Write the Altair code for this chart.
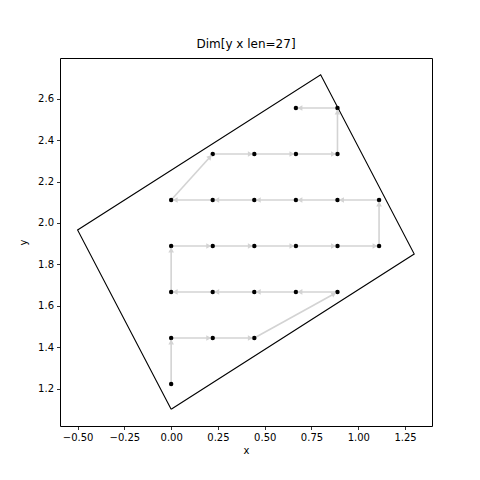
import math
import altair as alt
import pandas as pd

# Visit order of the 27 points (snake path)
px = [0.0,
      0.0, 0.2222, 0.4444,
      0.8889, 0.6667, 0.4444, 0.2222, 0.0,
      0.0, 0.2222, 0.4444, 0.6667, 0.8889, 1.1111,
      1.1111, 0.8889, 0.6667, 0.4444, 0.2222, 0.0,
      0.2222, 0.4444, 0.6667, 0.8889,
      0.8889, 0.6667]
py = [1.2222,
      1.4444, 1.4444, 1.4444,
      1.6667, 1.6667, 1.6667, 1.6667, 1.6667,
      1.8889, 1.8889, 1.8889, 1.8889, 1.8889, 1.8889,
      2.1111, 2.1111, 2.1111, 2.1111, 2.1111, 2.1111,
      2.3333, 2.3333, 2.3333, 2.3333,
      2.5556, 2.5556]

# Rotated rectangle outline
poly_x = [0.0, 1.299, 0.799, -0.5, 0.0]
poly_y = [1.1, 1.85, 2.716, 1.966, 1.1]

x_ticks = [-0.5, -0.25, 0.0, 0.25, 0.5, 0.75, 1.0, 1.25]
y_ticks = [1.2, 1.4, 1.6, 1.8, 2.0, 2.2, 2.4, 2.6]

XDOM = [-0.594, 1.394]
YDOM = [1.019, 2.797]
W, H = 372, 368
sx = W / (XDOM[1] - XDOM[0])
sy = H / (YDOM[1] - YDOM[0])

pts = pd.DataFrame({"x": px, "y": py})
poly = pd.DataFrame({"x": poly_x, "y": poly_y, "o": list(range(len(poly_x)))})

segs = []
for i in range(len(px) - 1):
    x0, y0, x1, y1 = px[i], py[i], px[i + 1], py[i + 1]
    dxp = (x1 - x0) * sx
    dyp = -(y1 - y0) * sy
    L = math.hypot(dxp, dyp)
    back = 4.0
    hx = x1 - (dxp / L) * back / sx
    hy = y1 + (dyp / L) * back / sy
    ang = math.degrees(math.atan2(dyp, dxp)) % 360
    segs.append({"x": x0, "y": y0, "x2": x1, "y2": y1, "hx": hx, "hy": hy, "ang": ang})
segs = pd.DataFrame(segs)

xs = alt.Scale(domain=XDOM, nice=False, zero=False)
ys = alt.Scale(domain=YDOM, nice=False, zero=False)
xax = alt.Axis(values=x_ticks, format=".2f", title="x")
yax = alt.Axis(values=y_ticks, format=".1f", title="y")

outline = alt.Chart(poly).mark_line(color="black", strokeWidth=1.1).encode(
    x=alt.X("x:Q", scale=xs, axis=xax),
    y=alt.Y("y:Q", scale=ys, axis=yax),
    order="o:O",
)

lines = alt.Chart(segs).mark_rule(color="#d3d3d3", strokeWidth=1.6).encode(
    x=alt.X("x:Q", scale=xs), y=alt.Y("y:Q", scale=ys), x2="x2:Q", y2="y2:Q"
)

dots = alt.Chart(pts).mark_point(filled=True, color="black", size=20, opacity=1).encode(
    x=alt.X("x:Q", scale=xs), y=alt.Y("y:Q", scale=ys)
)

heads = alt.Chart(segs).mark_point(
    shape="triangle-right", filled=True, color="#d3d3d3", size=32, opacity=1
).encode(
    x=alt.X("hx:Q", scale=xs), y=alt.Y("hy:Q", scale=ys), angle=alt.Angle("ang:Q", scale=None)
)

chart = alt.layer(outline, lines, dots, heads).properties(
    width=W, height=H,
    title=alt.TitleParams("Dim[y x len=27]", fontSize=12, font="DejaVu Sans",
                          fontWeight="normal", offset=7, color="black"),
    autosize=alt.AutoSizeParams(type="none"),
    padding={"left": 52, "top": 50, "right": 40, "bottom": 40},
).configure_view(stroke="black", strokeWidth=1).configure_axis(
    grid=False, domain=False, tickColor="black", tickSize=3.5, tickWidth=0.8,
    labelFont="DejaVu Sans", labelFontSize=10, labelColor="black", labelPadding=3,
    titleFont="DejaVu Sans", titleFontSize=10, titleFontWeight="normal", titleColor="black",
).configure_axisY(titlePadding=9, labelFlush=False).configure_axisX(titlePadding=3, labelFlush=False)

chart.save("out.html", embed_options={"renderer": "svg", "actions": False})
